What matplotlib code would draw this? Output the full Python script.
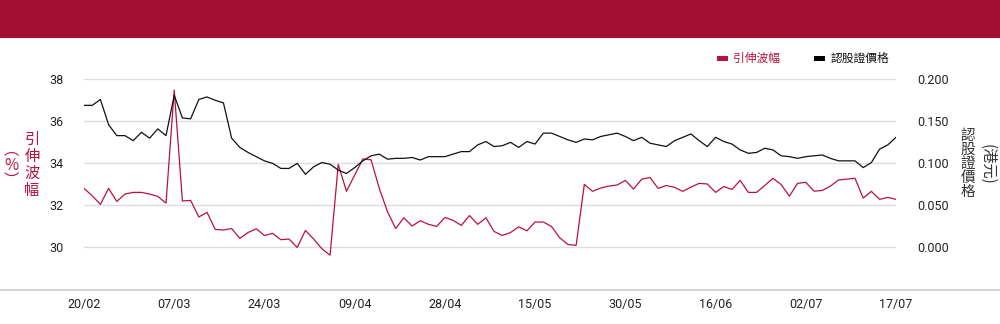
import matplotlib
matplotlib.use("Agg")
import matplotlib.pyplot as plt
from matplotlib.lines import Line2D
from matplotlib.patches import Rectangle
from matplotlib.ticker import FormatStrFormatter

# ---- data ----
tick_labels = ["20/02", "07/03", "24/03", "09/04", "28/04", "15/05", "30/05", "16/06", "02/07", "17/07"]
tick_step = 11

implied_vol = [
    32.81, 32.46, 32.05, 32.81, 32.19, 32.54, 32.62, 32.62, 32.54, 32.43,
    32.11, 37.49, 32.21, 32.24, 31.45, 31.67, 30.86, 30.83, 30.90, 30.43,
    30.71, 30.89, 30.57, 30.67, 30.37, 30.40, 30.00, 30.81, 30.40, 29.94,
    29.63, 33.95, 32.67, 33.44, 34.21, 34.17, 32.81, 31.70, 30.90, 31.41,
    31.02, 31.27, 31.10, 31.00, 31.43, 31.29, 31.05, 31.52, 31.10, 31.41,
    30.76, 30.57, 30.71, 30.98, 30.79, 31.21, 31.21, 31.00, 30.46, 30.14,
    30.10, 33.00, 32.67, 32.83, 32.92, 32.97, 33.19, 32.78, 33.25, 33.33,
    32.81, 32.95, 32.86, 32.67, 32.87, 33.05, 33.02, 32.62, 32.90, 32.76,
    33.19, 32.62, 32.62, 32.95, 33.29, 32.99, 32.44, 33.05, 33.10, 32.68,
    32.71, 32.92, 33.21, 33.25, 33.29, 32.35, 32.67, 32.29, 32.38, 32.29,
]

warrant_price = [
    0.169, 0.169, 0.176, 0.146, 0.133, 0.133, 0.127, 0.137, 0.130, 0.141,
    0.133, 0.181, 0.154, 0.153, 0.176, 0.179, 0.175, 0.172, 0.130, 0.119,
    0.113, 0.108, 0.103, 0.100, 0.094, 0.094, 0.100, 0.087, 0.096, 0.101,
    0.099, 0.092, 0.088, 0.095, 0.103, 0.109, 0.111, 0.105, 0.106, 0.106,
    0.107, 0.104, 0.108, 0.108, 0.108, 0.111, 0.114, 0.114, 0.122, 0.126,
    0.120, 0.121, 0.125, 0.119, 0.126, 0.123, 0.136, 0.136, 0.132, 0.128,
    0.125, 0.129, 0.128, 0.132, 0.134, 0.136, 0.132, 0.127, 0.131, 0.124,
    0.122, 0.120, 0.127, 0.131, 0.135, 0.127, 0.120, 0.131, 0.126, 0.123,
    0.116, 0.112, 0.113, 0.118, 0.116, 0.109, 0.108, 0.106, 0.108, 0.109,
    0.110, 0.106, 0.103, 0.103, 0.103, 0.095, 0.101, 0.117, 0.122, 0.131,
]

RED = "#B8123F"
BANNER = "#A50E33"
CJK = ["Noto Sans CJK TC", "DejaVu Sans"]

plt.rcParams["font.family"] = ["Roboto", "Noto Sans CJK TC", "DejaVu Sans"]

fig = plt.figure(figsize=(10, 3.24), dpi=100)

# banner
fig.patches.append(Rectangle((0, 1 - 38 / 324), 1, 38 / 324, transform=fig.transFigure,
                             facecolor=BANNER, edgecolor="none", zorder=0))
# full-width bottom line
fig.lines.append(Line2D([0, 1], [1 - 289.5 / 324] * 2, transform=fig.transFigure,
                        color="#cccccc", lw=1.2))

ax = fig.add_axes([0.084, 1 - 289.5 / 324, 0.812, (289.5 - 79.3) / 324])
ax2 = ax.twinx()

x = list(range(len(implied_vol)))
ax.plot(x, implied_vol, color=RED, lw=0.9, zorder=3)
ax2.plot(x, warrant_price, color="#111111", lw=0.9, zorder=3)

ax.set_xlim(0, len(x) - 1)
ax.set_ylim(28, 38)
ax2.set_ylim(-0.05, 0.2)
ax.set_yticks([30, 32, 34, 36, 38])
ax2.set_yticks([0.0, 0.05, 0.10, 0.15, 0.20])
ax2.yaxis.set_major_formatter(FormatStrFormatter("%.3f"))

for a in (ax, ax2):
    for s in a.spines.values():
        s.set_visible(False)
    a.tick_params(length=0)
ax.grid(axis="y", color="#dddddd", lw=1)
ax.set_axisbelow(True)

ax.tick_params(axis="y", labelsize=9, labelcolor="#222222", pad=15)
ax2.tick_params(axis="y", labelsize=9, labelcolor="#222222", pad=15)

ax.set_xticks(list(range(0, len(x) + 1, tick_step)))
ax.set_xticklabels(tick_labels, fontfamily=["Liberation Sans Narrow", "Roboto"],
                   fontsize=9, color="#222222")
ax.tick_params(axis="x", pad=6)

# left axis label (vertical stacked)
fig.text(0.032, 1 - 165 / 324, "引\n伸\n波\n幅", color=RED, fontsize=11, family=CJK,
         ha="center", va="center", linespacing=1.0)
fig.text(0.011, 1 - 165 / 324, "︵\n%\n︶", color=RED, fontsize=11, family=CJK,
         ha="center", va="center", linespacing=0.9)

# right axis label
fig.text(0.968, 1 - 164 / 324, "認\n股\n證\n價\n格", color="#333333", fontsize=10.5, family=CJK,
         ha="center", va="center", linespacing=1.0)
fig.text(0.987, 1 - 164 / 324, "(港元)", color="#333333", fontsize=11, family=CJK,
         ha="center", va="center", rotation=270)

# legend
ly = 1 - 58.5 / 324
fig.patches.append(Rectangle((717 / 1000, ly - 2 / 324), 11 / 1000, 4 / 324, transform=fig.transFigure,
                             facecolor=RED, edgecolor="none"))
fig.text(733 / 1000, ly, "引伸波幅", color=RED, fontsize=8.5, family=CJK, ha="left", va="center")
fig.patches.append(Rectangle((814 / 1000, ly - 2 / 324), 11 / 1000, 4 / 324, transform=fig.transFigure,
                             facecolor="#000000", edgecolor="none"))
fig.text(831 / 1000, ly, "認股證價格", color="#111111", fontsize=8.5, family=CJK, ha="left", va="center")

fig.savefig("out.png", dpi=100)
